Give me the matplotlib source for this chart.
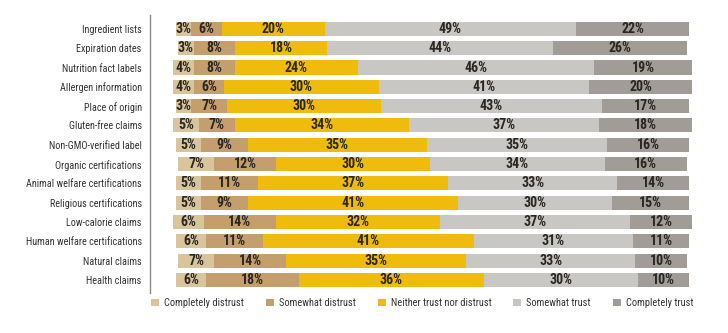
import numpy as np
import matplotlib.pyplot as plt
from matplotlib.patches import Patch

plt.rcParams['font.family'] = ['Roboto Condensed', 'Archivo Narrow', 'PT Sans Narrow',
                               'Liberation Sans Narrow', 'DejaVu Sans']

# ---- data ----
claims = ["Ingredient lists", "Expiration dates", "Nutrition fact labels",
          "Allergen information", "Place of origin", "Gluten-free claims",
          "Non-GMO-verified label", "Organic certifications",
          "Animal welfare certifications", "Religious certifications",
          "Low-calorie claims", "Human welfare certifications",
          "Natural claims", "Health claims"]

completely_distrust = [3, 3, 4, 4, 3, 5, 5, 7, 5, 5, 6, 6, 7, 6]
somewhat_distrust   = [6, 8, 8, 6, 7, 7, 9, 12, 11, 9, 14, 11, 14, 18]
neutral             = [20, 18, 24, 30, 30, 34, 35, 30, 37, 41, 32, 41, 35, 36]
somewhat_trust      = [49, 44, 46, 41, 43, 37, 35, 34, 33, 30, 37, 31, 33, 30]
completely_trust    = [22, 26, 19, 20, 17, 18, 16, 16, 14, 15, 12, 11, 10, 10]

series_names = ["Completely distrust", "Somewhat distrust",
                "Neither trust nor distrust", "Somewhat trust", "Completely trust"]
colors = ["#d9c59b", "#c49e6c", "#efbb0c", "#c9c7c3", "#a19d96"]

series = [completely_distrust, somewhat_distrust, neutral,
          somewhat_trust, completely_trust]

fig, ax = plt.subplots(figsize=(7.28, 3.33), dpi=100)
fig.subplots_adjust(left=0.206, right=0.98, top=0.955, bottom=0.12)

y = np.arange(len(claims))
data = np.array(series, dtype=float)
totals = data.sum(axis=0)
# each bar is centred on the 50% mark
left = (100 - totals) / 2

for vals, name, col in zip(data, series_names, colors):
    ax.barh(y, vals, left=left, height=0.73, color=col, label=name)
    for yi, v, l in zip(y, vals, left):
        ax.text(l + v / 2, yi, f"{int(v)}%", ha="center", va="center",
                fontsize=10, fontweight="bold", color="#2a2622")
    left = left + vals

ax.set_yticks(y)
ax.set_yticklabels(claims, fontsize=7.3, color="#333333")
ax.tick_params(axis="y", length=0, pad=6)
ax.set_xticks([])
ax.set_xlim(-5, 104.7)
ax.set_ylim(len(claims) - 1 + 0.68, -0.72)

for side in ["top", "right", "bottom"]:
    ax.spines[side].set_visible(False)
ax.spines["left"].set_color("#8a8a8a")
ax.spines["left"].set_linewidth(1.0)

handles = [Patch(facecolor=c, edgecolor="none") for c in colors]
fig.legend(handles, series_names, loc="center", bbox_to_anchor=(0.58, 0.09),
           ncol=5, frameon=False, fontsize=7.5, handlelength=0.75, handleheight=0.75,
           handletextpad=0.5, columnspacing=2.1, labelcolor="#333333")

fig.savefig("out.png", dpi=100)
